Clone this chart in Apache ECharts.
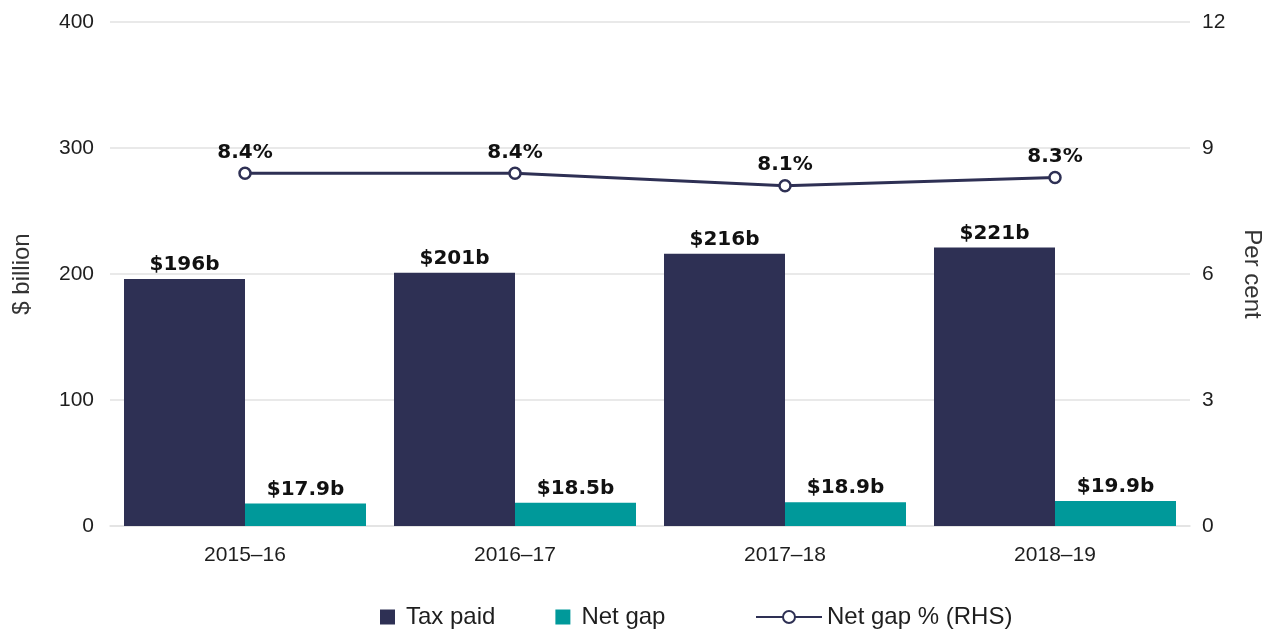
<!DOCTYPE html>
<html>
<head>
<meta charset="utf-8">
<script src="https://cdn.jsdelivr.net/npm/echarts@6/dist/echarts.min.js"></script>
<style>
  html, body { margin: 0; padding: 0; background: #fff; }
  #chart { width: 1281px; height: 632px; }
</style>
</head>
<body>
<div id="chart"></div>
<script>
// data
const years = ['2015–16', '2016–17', '2017–18', '2018–19'];
const taxPaid = [196, 201, 216, 221];
const netGap = [17.9, 18.5, 18.9, 19.9];
const netGapPct = [8.4, 8.4, 8.1, 8.3];

const navy = '#2e3054';
const teal = '#00999a';
const gridGrey = '#e2e2e2';
const textCol = '#1e1e1e';
const baseFont = 'Liberation Sans';

let myChart = echarts.init(document.getElementById('chart'));

const option = {
  animation: false,
  grid: { left: 110, right: 91, top: 22, bottom: 106, outerBoundsMode: 'none', containLabel: false },
  legend: [
    {
      data: ['Tax paid', 'Net gap'],
      left: 375,
      top: 600,
      icon: 'rect',
      itemWidth: 15,
      itemHeight: 15,
      itemGap: 60,
      textStyle: { fontFamily: baseFont, fontSize: 24, color: textCol, padding: [0, 0, 0, 6] }
    },
    {
      data: ['Net gap % (RHS)'],
      left: 750,
      top: 600,
      itemWidth: 66,
      itemHeight: 15,
      textStyle: { fontFamily: baseFont, fontSize: 24, color: textCol, padding: [0, 0, 0, 0] }
    }
  ],
  xAxis: {
    type: 'category',
    data: years,
    axisLine: { lineStyle: { color: gridGrey, width: 1.5 } },
    axisTick: { alignWithLabel: true, length: 9, lineStyle: { color: '#d4d4d4' } },
    axisLabel: { fontFamily: baseFont, fontSize: 21, color: textCol, margin: 19 }
  },
  yAxis: [
    {
      type: 'value',
      min: 0,
      max: 400,
      interval: 100,
      name: '$ billion',
      nameLocation: 'middle',
      nameGap: 76,
      nameTextStyle: { fontFamily: baseFont, fontSize: 24, color: '#333' },
      axisLine: { show: false },
      axisTick: { show: false },
      axisLabel: { fontFamily: baseFont, fontSize: 21, color: textCol, margin: 16 },
      splitLine: { lineStyle: { color: gridGrey, width: 1.5 } }
    },
    {
      type: 'value',
      min: 0,
      max: 12,
      interval: 3,
      name: 'Per cent',
      nameLocation: 'middle',
      nameRotate: -90,
      nameGap: 50,
      nameTextStyle: { fontFamily: baseFont, fontSize: 24, color: '#333' },
      axisLine: { show: false },
      axisTick: { show: false },
      axisLabel: { fontFamily: baseFont, fontSize: 21, color: textCol, margin: 12 },
      splitLine: { show: false }
    }
  ],
  series: [
    {
      name: 'Tax paid',
      type: 'bar',
      data: taxPaid,
      barWidth: 121,
      barGap: '0%',
      itemStyle: { color: navy },
      label: {
        show: true,
        position: 'top',
        distance: 4,
        formatter: p => '$' + p.value + 'b',
        fontFamily: 'DejaVu Sans',
        fontWeight: 'bold',
        fontSize: 20,
        color: '#111'
      }
    },
    {
      name: 'Net gap',
      type: 'bar',
      data: netGap,
      barWidth: 121,
      barGap: '0%',
      itemStyle: { color: teal },
      label: {
        show: true,
        position: 'top',
        distance: 4,
        formatter: p => '$' + p.value.toFixed(1) + 'b',
        fontFamily: 'DejaVu Sans',
        fontWeight: 'bold',
        fontSize: 20,
        color: '#111'
      }
    },
    {
      name: 'Net gap % (RHS)',
      type: 'line',
      yAxisIndex: 1,
      data: netGapPct,
      symbol: 'circle',
      symbolSize: 11,
      z: 5,
      lineStyle: { color: navy, width: 3 },
      itemStyle: { color: '#fff', borderColor: navy, borderWidth: 2.5 },
      label: {
        show: true,
        position: 'top',
        distance: 4,
        formatter: p => p.value.toFixed(1) + '%',
        fontFamily: 'DejaVu Sans',
        fontWeight: 'bold',
        fontSize: 20,
        color: '#111'
      }
    }
  ]
};

myChart.setOption(option);
</script>
</body>
</html>
